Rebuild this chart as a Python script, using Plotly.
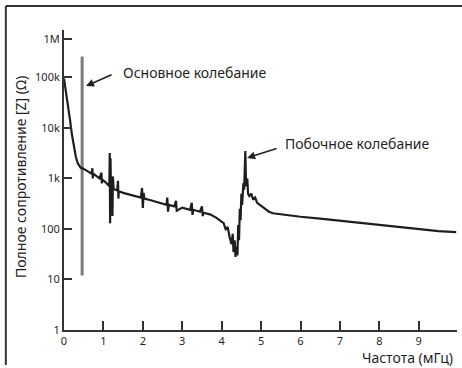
import plotly.graph_objects as go

# Impedance curve (frequency in MHz, impedance in ohms)
freq = [0.0, 0.05, 0.1, 0.15, 0.2, 0.25, 0.3, 0.35, 0.42, 0.5, 0.6, 0.7,
        0.72, 0.73, 0.74, 0.8, 0.9, 0.95, 0.96, 0.97, 1.05, 1.12,
        1.15, 1.16, 1.17, 1.18, 1.19, 1.22, 1.23, 1.24, 1.26, 1.3,
        1.35, 1.37, 1.38, 1.39, 1.5, 1.7, 1.85, 1.95, 1.98, 2.0, 2.02, 2.04,
        2.2, 2.4, 2.6, 2.62, 2.64, 2.66, 2.8, 2.84, 2.86, 3.0,
        3.2, 3.24, 3.26, 3.28, 3.45, 3.5, 3.52, 3.54, 3.7, 3.85, 3.95,
        4.05, 4.1, 4.15, 4.2, 4.25, 4.28, 4.3, 4.33, 4.35, 4.38, 4.4,
        4.42, 4.44, 4.46, 4.48, 4.5, 4.52, 4.55, 4.57, 4.6, 4.62, 4.65,
        4.67, 4.7, 4.75, 4.8, 4.85, 4.9, 5.0, 5.1, 5.2, 5.3,
        5.6, 6.0, 6.5, 7.0, 7.5, 8.0, 8.5, 9.0, 9.5, 9.95]
impedance = [95000, 55000, 30000, 15000, 7500, 4200, 2700, 2000, 1650, 1550, 1400, 1250,
             1600, 1000, 1250, 1150, 1000, 1300, 800, 950, 850, 720,
             700, 3200, 130, 2500, 700, 650, 180, 1100, 620, 600,
             580, 900, 400, 560, 520, 470, 440, 420, 650, 260, 520, 400,
             370, 330, 300, 420, 220, 300, 280, 360, 230, 265,
             240, 330, 190, 240, 220, 280, 180, 210, 195, 170, 150,
             130, 100, 110, 70, 50, 80, 35, 60, 28, 45, 30,
             120, 60, 250, 150, 500, 300, 800, 600, 3500, 700, 1000,
             500, 450, 500, 380, 420, 330, 290, 250, 220, 205,
             190, 175, 160, 145, 133, 120, 108, 98, 91, 87]

# Main resonance marker line
res_freq = [0.46, 0.46]
res_imp = [12, 260000]

x_ticks = [0, 1, 2, 3, 4, 5, 6, 7, 8, 9]
y_tickvals = [1, 10, 100, 1000, 10000, 100000, 580000]
y_ticktext = ["1", "10", "100", "1k", "10k", "100k", "1M"]

FONT = "Noto Sans"
INK = "#1f1f1f"

fig = go.Figure()
fig.add_trace(go.Scatter(x=res_freq, y=res_imp, mode="lines",
                         line=dict(color="#7a7a7a", width=3), hoverinfo="skip"))
fig.add_trace(go.Scatter(x=freq, y=impedance, mode="lines",
                         line=dict(color="#1e1e1e", width=2.2)))

fig.update_layout(
    width=462, height=368,
    margin=dict(l=64, r=5, t=30, b=38, autoexpand=False),
    paper_bgcolor="white", plot_bgcolor="white",
    showlegend=False,
    font=dict(family=FONT, size=11, color=INK),
    xaxis=dict(range=[0, 9.97], tickvals=x_ticks, showgrid=False, zeroline=False,
               automargin=False,
               showline=True, linecolor="#333", linewidth=2,
               ticks="inside", ticklen=9, tickwidth=2, tickcolor="#333",
               tickfont=dict(size=11, family=FONT, color=INK)),
    yaxis=dict(type="log", range=[0, 5.94], tickvals=y_tickvals, ticktext=y_ticktext,
               showgrid=False, zeroline=False, automargin=False,
               showline=True, linecolor="#333", linewidth=2,
               ticks="inside", ticklen=8, tickwidth=2, tickcolor="#333",
               tickfont=dict(size=11, family=FONT, color=INK)),
    shapes=[
        dict(type="line", xref="paper", yref="paper", x0=-0.148, x1=1.02, y0=1.08, y1=1.08,
             line=dict(color="#333", width=2)),
        dict(type="line", xref="paper", yref="paper", x0=-0.148, x1=-0.148, y0=1.08, y1=-0.117,
             line=dict(color="#333", width=2)),
    ],
    annotations=[
        dict(xref="paper", yref="paper", x=0.995, y=-0.093, xanchor="right", yanchor="middle",
             text="Частота (мГц)", showarrow=False, font=dict(size=14, family=FONT, color=INK)),
        dict(xref="paper", yref="paper", x=-0.112, y=0.51, xanchor="center", yanchor="middle",
             text="Полное сопротивление [Z] (Ω)", textangle=-90, showarrow=False,
             font=dict(size=14, family=FONT, color=INK)),
        dict(x=1.45, y=5.09, xanchor="left", yanchor="middle", text="Основное колебание",
             showarrow=False, font=dict(size=14, family=FONT, color=INK)),
        dict(x=5.56, y=3.70, xanchor="left", yanchor="middle", text="Побочное колебание",
             showarrow=False, font=dict(size=14, family=FONT, color=INK)),
        dict(x=0.558, y=4.83, ax=27, ay=-12, text="", showarrow=True,
             arrowhead=2, arrowsize=1, arrowwidth=1.6, arrowcolor="#222"),
        dict(x=4.645, y=3.406, ax=31, ay=-10, text="", showarrow=True,
             arrowhead=2, arrowsize=1, arrowwidth=1.6, arrowcolor="#222"),
    ],
)

fig.write_html("out.html", config={"displayModeBar": False},
               post_script="document.body.style.margin='0';document.body.style.overflow='hidden';")
